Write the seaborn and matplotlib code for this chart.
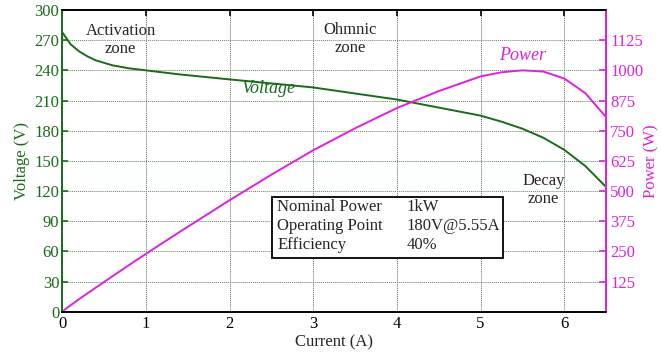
import numpy as np
import pandas as pd
import matplotlib
matplotlib.use('Agg')
import matplotlib.pyplot as plt
import seaborn as sns

# values
current = [0, 0.05, 0.1, 0.2, 0.3, 0.4, 0.6, 0.8, 1.0, 1.4, 2.0, 2.5, 3.0,
           3.5, 4.0, 4.5, 5.0, 5.25, 5.5, 5.75, 6.0, 6.25, 6.5]
voltage = [278, 272, 266, 259, 254, 250, 245, 242, 240, 236, 231, 227, 223,
           217, 211, 203, 195, 189, 182, 173, 161, 145, 124]
power = [0, 14, 27, 52, 76, 100, 147, 194, 240, 330, 462, 568, 669,
         760, 844, 914, 975, 992, 1000, 995, 966, 906, 806]

v_ticks = list(range(0, 301, 30))
p_ticks = [125, 250, 375, 500, 625, 750, 875, 1000, 1125]
x_ticks = [0, 1, 2, 3, 4, 5, 6]

table_rows = [("Nominal Power", "1kW"),
              ("Operating Point", "180V@5.55A"),
              ("Efficiency", "40%")]

GREEN = '#1a6b1a'
MAGENTA = '#dd22dd'
FS = 12

sns.set_style('white')
plt.rcParams['font.family'] = ['Liberation Serif', 'DejaVu Serif']
plt.rcParams['font.size'] = FS

df = pd.DataFrame({'I': current, 'V': voltage, 'P': power})

fig = plt.figure(figsize=(6.61, 3.56), dpi=100)
ax = fig.add_axes([0.094, 0.124, 0.823, 0.848])
ax2 = ax.twinx()

sns.lineplot(data=df, x='I', y='V', ax=ax, color=GREEN, linewidth=1.4)
sns.lineplot(data=df, x='I', y='P', ax=ax2, color=MAGENTA, linewidth=1.4)

ax.set_xlim(0, 6.5)
ax.set_ylim(0, 300)
ax2.set_ylim(0, 1250)
ax.set_xticks(x_ticks)
ax.set_yticks(v_ticks)
ax2.set_yticks(p_ticks)

ax.grid(True, axis='x', color='#666666', linestyle=(0, (1, 1)), linewidth=0.7)
ax.grid(True, axis='y', color='#5a8a5a', linestyle=(0, (1, 1)), linewidth=0.7)
ax2.grid(False)

ax.set_xlabel('Current (A)', fontsize=FS, labelpad=2)
ax.set_ylabel('Voltage (V)', fontsize=FS, color=GREEN, labelpad=3)
ax2.set_ylabel('Power (W)', fontsize=FS, color=MAGENTA, labelpad=0)

ax.tick_params(axis='x', direction='in', length=4, width=1.2, top=True,
               labelsize=FS, pad=3, colors='black')
ax.tick_params(axis='y', direction='in', length=4, width=1.2, labelsize=FS,
               colors=GREEN, pad=2)
ax2.tick_params(axis='y', direction='in', length=5, width=1.2, labelsize=FS,
                colors=MAGENTA, pad=3)

for a in (ax, ax2):
    for side in ('top', 'bottom'):
        a.spines[side].set_color('black')
        a.spines[side].set_linewidth(1.2)
    a.spines['left'].set_color(GREEN)
    a.spines['right'].set_color(MAGENTA)
    a.spines['left'].set_linewidth(1.2)
    a.spines['right'].set_linewidth(1.4)

# zone annotations
ax.text(0.7, 270, 'Activation\nzone', ha='center', va='center', fontsize=FS,
        linespacing=1.2)
ax.text(3.44, 271, 'Ohmnic\nzone', ha='center', va='center', fontsize=FS,
        linespacing=1.2)
ax.text(5.75, 121, 'Decay\nzone', ha='center', va='center', fontsize=FS,
        linespacing=1.2)
ax.text(2.46, 222, 'Voltage', ha='center', va='center', fontsize=13,
        style='italic', color=GREEN)
ax.text(5.5, 255, 'Power', ha='center', va='center', fontsize=13,
        style='italic', color=MAGENTA)

# parameter box
box_left, box_right, box_top, box_bot = 2.51, 5.27, 114, 54
ax.add_patch(plt.Rectangle((box_left, box_bot), box_right - box_left,
                           box_top - box_bot, facecolor='white',
                           edgecolor='black', linewidth=1.3, zorder=5))
for k, (name, val) in enumerate(table_rows):
    y = 104 - k * 19
    ax.text(box_left + 0.06, y, name, ha='left', va='center', fontsize=FS,
            zorder=6)
    ax.text(4.12, y, val, ha='left', va='center', fontsize=FS, zorder=6)

fig.savefig('out.png', dpi=100)
